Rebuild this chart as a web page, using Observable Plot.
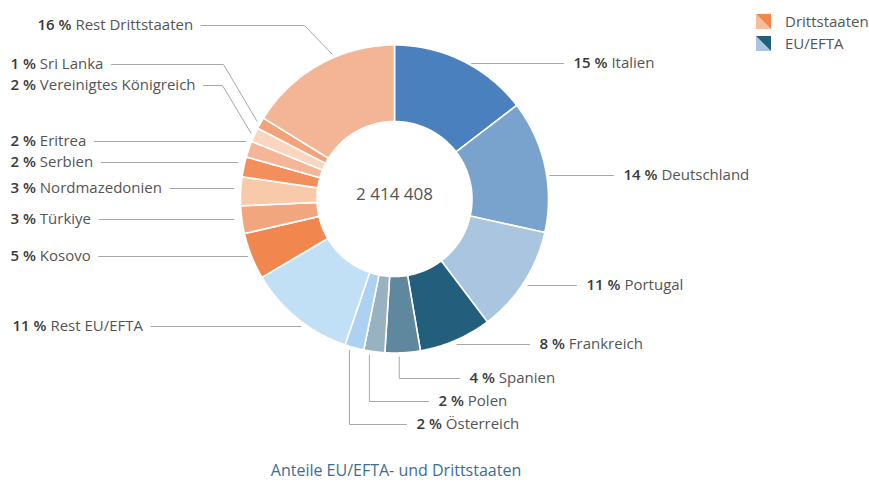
<!DOCTYPE html>
<html><head><meta charset="utf-8">
<script src="https://cdn.jsdelivr.net/npm/d3@7"></script>
<script src="https://cdn.jsdelivr.net/npm/@observablehq/plot@0.6"></script>
<style>
body{margin:0;background:#fff;font-family:'Open Sans',sans-serif;}
#wrap{position:relative;width:869px;height:482px;}
#legend{position:absolute;left:756px;top:10px;font-size:15px;color:#555;}
#legend .row{height:22px;display:flex;align-items:center;}
#legend svg{margin-right:14px;}
#caption{position:absolute;left:0;width:792px;top:459px;line-height:22px;height:22px;text-align:center;font-size:16px;color:#3b6f92;}
</style></head><body><div id="wrap"></div>
<script>
// ---------- DATA ----------
const countries = ["Italien","Deutschland","Portugal","Frankreich","Spanien","Polen","Österreich","Rest EU/EFTA",
  "Kosovo","Türkiye","Nordmazedonien","Serbien","Eritrea","Vereinigtes Königreich","Sri Lanka","Rest Drittstaaten"];
const shares = [14.6,13.9,11.2,7.6,3.7,2.2,2.0,11.3, 4.9,2.9,3.0,2.1,1.7,1.5,1.2,16.2];
const groups = ["EU/EFTA","EU/EFTA","EU/EFTA","EU/EFTA","EU/EFTA","EU/EFTA","EU/EFTA","EU/EFTA",
  "Drittstaaten","Drittstaaten","Drittstaaten","Drittstaaten","Drittstaaten","Drittstaaten","Drittstaaten","Drittstaaten"];
const totalLabel = "2 414 408";
const title = "Anteile EU/EFTA- und Drittstaaten";
const legendLabels = ["Drittstaaten","EU/EFTA"];

// ---------- STYLE ----------
const sliceColors = ["#4a80bd","#79a3cd","#a9c5df","#235e7d","#5f879e","#98b2c1","#add1f0","#c2e0f5",
  "#f2864f","#f2a67d","#f8c9ab","#f28f5c","#f4b696","#fad5c0","#f3a37a","#f4b596"];
const legendColors = [["#f2864f","#f7bc9c"],["#235e7d","#a9c5df"]];
const FS = 15;

// ---------- LAYOUT ----------
const W = 869, H = 458, cx = 394, cy = 198.5, R = 154, R0 = 77.5;
// label placement per slice (annotation layout)
const labelLayout = [
  {side:"right", x:573, y:63,  leader:"h", gap:4},
  {side:"right", x:623, y:175, leader:"h", gap:3},
  {side:"right", x:586, y:285, leader:"h", gap:6},
  {side:"right", x:539, y:344, leader:"h", gap:12},
  {side:"right", x:469, y:378, leader:"down", at:0.6},
  {side:"right", x:438, y:401, leader:"down", at:0.7},
  {side:"right", x:416, y:424, leader:"down", at:0.7},
  {side:"left",  x:12,  y:326, leader:"h", gap:7},
  {side:"left",  x:10,  y:256, leader:"h", gap:4},
  {side:"left",  x:10,  y:219, leader:"h", gap:8},
  {side:"left",  x:10,  y:188, leader:"h", gap:7},
  {side:"left",  x:10,  y:162, leader:"h", gap:7},
  {side:"left",  x:10,  y:141, leader:"h", gap:6},
  {side:"left",  x:10,  y:85,  leader:"bend", bend:222},
  {side:"left",  x:10,  y:64,  leader:"bend", bend:223},
  {side:"left",  x:37,  y:25,  leader:"bend", bend:304, at:0.6}
];

const ctx = document.createElement("canvas").getContext("2d");
function tw(s, weight){ ctx.font = `${weight} ${FS}px "Open Sans"`; return ctx.measureText(s).width; }

const arcs = d3.pie().sort(null).value(d => d)(shares);
const pt = (a, rad) => ({x: cx + rad * Math.sin(a), y: cy - rad * Math.cos(a)});

// slice polygons
const poly = [];
arcs.forEach((a, i) => {
  const n = Math.max(4, Math.ceil((a.endAngle - a.startAngle) / 0.01));
  for (let k = 0; k <= n; k++) poly.push({i, color: sliceColors[i], ...pt(a.startAngle + (a.endAngle - a.startAngle) * k / n, R)});
  for (let k = n; k >= 0; k--) poly.push({i, color: sliceColors[i], ...pt(a.startAngle + (a.endAngle - a.startAngle) * k / n, R0)});
});

// labels & leaders
const pctTexts = [], nameTexts = [], leaders = [];
arcs.forEach((a, i) => {
  const L = labelLayout[i];
  const pct = Math.round(shares[i]) + "\u00a0%";
  const wp = tw(pct, 600), ws = tw(" ", 400), wn = tw(countries[i], 400);
  pctTexts.push({x: L.x, y: L.y, t: pct});
  nameTexts.push({x: L.x + wp + ws, y: L.y, t: countries[i]});
  const textEnd = L.x + wp + ws + wn;
  const edge = Math.sqrt(Math.max(0, R * R - (L.y - cy) ** 2));
  const mid = a.startAngle + (a.endAngle - a.startAngle) * (L.at ?? 0.5);
  const anc = pt(mid, R + 4);
  let pts;
  if (L.leader === "h") {
    pts = L.side === "right"
      ? [{x: cx + edge + L.gap, y: L.y}, {x: L.x - 10, y: L.y}]
      : [{x: textEnd + 8, y: L.y}, {x: cx - edge - L.gap, y: L.y}];
  } else if (L.leader === "bend") {
    pts = [{x: textEnd + 8, y: L.y}, {x: L.bend, y: L.y}, anc];
  } else {
    pts = [anc, {x: anc.x, y: L.y}, {x: L.x - 10, y: L.y}];
  }
  pts.forEach(p => leaders.push({i, ...p}));
});

const chart = Plot.plot({
  width: W, height: H,
  margin: 0,
  x: {domain: [0, W], range: [0, W], axis: null},
  y: {domain: [0, H], range: [0, H], axis: null},
  color: {type: "identity"},
  style: {fontFamily: "'Open Sans', sans-serif", background: "#fff"},
  marks: [
    Plot.line(poly, {x: "x", y: "y", z: "i", fill: "color", stroke: "#fff", strokeWidth: 1.6, curve: "linear-closed"}),
    Plot.line(leaders, {x: "x", y: "y", z: "i", stroke: "#a8a8a8", strokeWidth: 1}),
    Plot.text(pctTexts, {x: "x", y: "y", text: "t", textAnchor: "start", fontSize: FS, fontWeight: 600, fill: "#3a3a3a"}),
    Plot.text(nameTexts, {x: "x", y: "y", text: "t", textAnchor: "start", fontSize: FS, fill: "#555"}),
    Plot.text([totalLabel], {x: () => cx, y: () => cy - 4, text: d => d, fontSize: 17, fill: "#555"})
  ]
});

const wrap = document.getElementById("wrap");
wrap.appendChild(chart);

const legend = document.createElement("div");
legend.id = "legend";
legendLabels.forEach((lab, j) => {
  const row = document.createElement("div");
  row.className = "row";
  const [dark, light] = legendColors[j];
  row.innerHTML = `<svg width="15" height="15"><polygon points="0,0 15,15 0,15" fill="${light}"/><polygon points="0,0 15,0 15,15" fill="${dark}"/></svg><span>${lab}</span>`;
  legend.appendChild(row);
});
wrap.appendChild(legend);

const cap = document.createElement("div");
cap.id = "caption";
cap.textContent = title;
wrap.appendChild(cap);
</script>
</body></html>
